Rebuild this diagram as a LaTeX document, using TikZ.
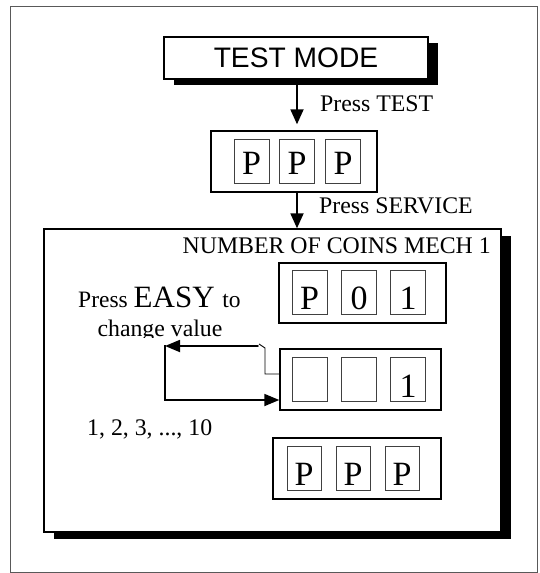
\documentclass[tikz,border=0pt]{standalone}
\usepackage{fontspec}
\setmainfont{Liberation Serif}
\newfontfamily\arialf{Liberation Sans}
\usetikzlibrary{arrows.meta,shadows,calc}
\begin{document}
\begin{tikzpicture}[x=1pt,y=-1pt,
  box/.style={draw=black,line width=1.4pt,fill=white,rectangle,inner sep=0pt},
  shbox/.style={box,drop shadow={shadow xshift=10pt,shadow yshift=-6pt,fill=black,opacity=1}},
  cell/.style={draw=black!75,line width=0.9pt,rectangle,inner sep=0pt,minimum width=35pt,minimum height=44pt},
  glyph/.style={anchor=base,inner sep=0pt,font=\fontsize{34}{34}\selectfont},
  lbl/.style={inner sep=0pt,font=\fontsize{23.8}{26}\selectfont},
  arr/.style={line width=1.8pt,-{Triangle[length=15pt,width=13pt]}},
  looparr/.style={line width=1.8pt,-{Triangle[length=15pt,width=12pt]}},
  thinline/.style={line width=0.9pt}
]
\useasboundingbox (0,0) rectangle (539,573);
\draw[black!65,line width=1pt] (10,6) rectangle (537,572);

% TEST MODE
\node[shbox,minimum width=264pt,minimum height=42pt,
      font=\arialf\fontsize{28.2}{29}\selectfont] (tm) at (296,58) {TEST MODE};

% first PPP box
\node[box,minimum width=166pt,minimum height=61pt] (ppp) at (294,161.5) {};
\node[cell] (pa) at (251.5,161.5) {};
\node[cell] (pb) at (297,161.5) {};
\node[cell] (pc) at (343,161.5) {};
\node[glyph] (pat) at (251.5,174) {P};
\node[glyph] (pbt) at (297,174) {P};
\node[glyph] (pct) at (343,174) {P};

% arrows
\coordinate (a1s) at (297,84);
\draw[arr] (a1s) -- ($(a1s |- ppp.north)+(0,-6)$);
\node[lbl,anchor=base west] (ptest) at (320,111) {Press TEST};

% big box
\node[box,minimum width=457pt,minimum height=303pt,
      drop shadow={shadow xshift=10pt,shadow yshift=-7pt,fill=black,opacity=1}] (big) at (272.5,380.5) {};
\draw[arr] (ppp.south -| a1s) -- (big.north -| a1s);
\node[lbl,anchor=base west] (pserv) at (319,213) {Press SERVICE};
\node[lbl,anchor=base east] (title) at (491,253) {NUMBER OF COINS MECH 1};

% P01 box
\node[box,minimum width=167pt,minimum height=60pt] (top) at (362.5,293) {};
\node[cell] (ta) at (309.5,292) {};
\node[cell] (tb) at (359,292) {};
\node[cell] (tc) at (408,292) {};
\node[glyph] (tat) at (309.5,309) {P};
\node[glyph] (tbt) at (359,309) {0};
\node[glyph] (tct) at (408,309) {1};

% middle box
\node[box,minimum width=161pt,minimum height=61pt] (mid) at (360.5,379.5) {};
\node[cell] (ma) at (309.5,379.5) {};
\node[cell] (mb) at (359,379.5) {};
\node[cell] (mc) at (408,379.5) {};
\node[glyph] (mct) at (408,397) {1};

% bottom PPP box
\node[box,minimum width=168pt,minimum height=61pt] (bot) at (357,468.5) {};
\node[cell,minimum width=34pt] (ba) at (304,468) {};
\node[cell,minimum width=34pt] (bb) at (353,468) {};
\node[cell,minimum width=34pt] (bc) at (402,468) {};
\node[glyph] (bat) at (304,485) {P};
\node[glyph] (bbt) at (353,485) {P};
\node[glyph] (bct) at (402,485) {P};

% texts on left
\node[inner sep=0pt,anchor=base west] (easy) at (78,307)
  {\fontsize{23.5}{24}\selectfont Press \fontsize{31}{32}\selectfont EASY \fontsize{23.5}{24}\selectfont to};
\begin{scope}
\clip (60,310) rectangle (260,337.5);
\node[lbl,anchor=base] (chg) at (160,336) {change value};
\end{scope}
\node[lbl,anchor=base west] (nums) at (87,435) {1, 2, 3, ..., 10};

% loop
\coordinate (t1) at (265,374);
\coordinate (t2) at (265,348);
\coordinate (t3) at (259,344);
\coordinate (c1) at (258,346);
\coordinate (c2) at (165,346);
\coordinate (c3) at (165,400);
\draw[thinline] (mid.west |- t1) -- (t1) -- (t2) -- (t3);
\draw[looparr,line cap=round] (c1) -- (c2);
\draw[looparr] ($(c2)+(0,-0.9)$) -- (c3) -- (c3 -| mid.west);
\end{tikzpicture}
\end{document}
